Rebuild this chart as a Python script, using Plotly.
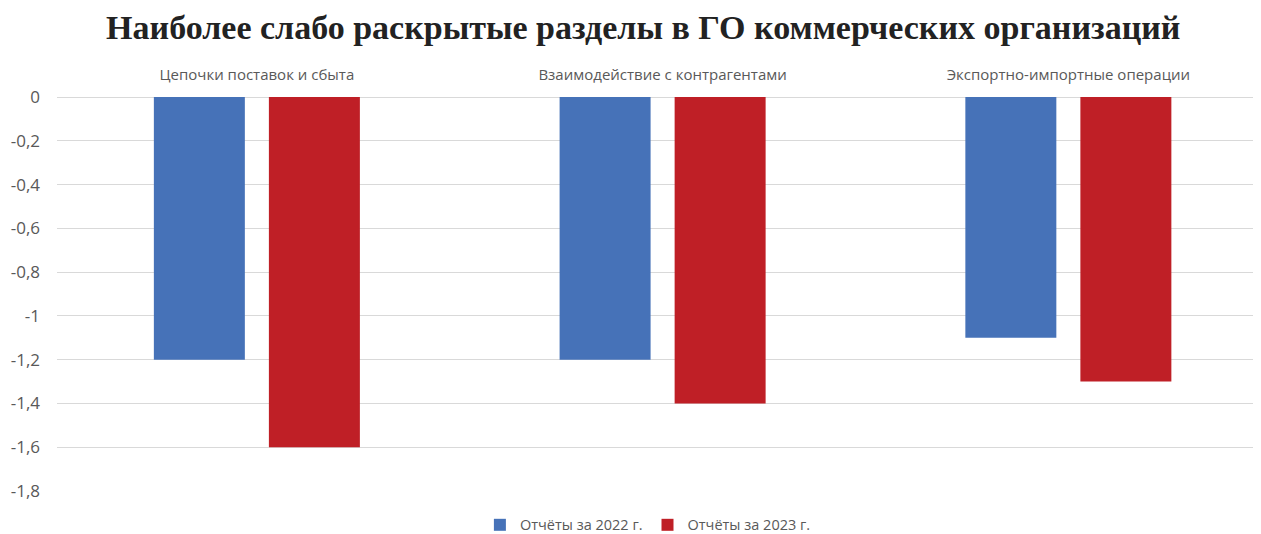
import plotly.graph_objects as go

categories = ["Цепочки поставок и сбыта", "Взаимодействие с контрагентами", "Экспортно-импортные операции"]
series_names = ["Отчёты за 2022 г.", "Отчёты за 2023 г."]
values_2022 = [-1.2, -1.2, -1.1]
values_2023 = [-1.6, -1.4, -1.3]
tick_vals = [0, -0.2, -0.4, -0.6, -0.8, -1, -1.2, -1.4, -1.6, -1.8]
tick_text = ["0", "-0,2", "-0,4", "-0,6", "-0,8", "-1", "-1,2", "-1,4", "-1,6", "-1,8"]
title_text = "Наиболее слабо раскрытые разделы в ГО коммерческих организаций"

colors = ["#4672B8", "#BF1F26"]

fig = go.Figure()
fig.add_trace(go.Bar(x=categories, y=values_2022, name=series_names[0],
                     marker=dict(color=colors[0], line=dict(width=0))))
fig.add_trace(go.Bar(x=categories, y=values_2023, name=series_names[1],
                     marker=dict(color=colors[1], line=dict(width=0))))

# page body has a margin, so the figure is slightly smaller and offset
fig.update_layout(
    width=1253, height=526,
    margin=dict(l=49, r=3, t=89, b=43, autoexpand=False),
    paper_bgcolor="white", plot_bgcolor="white",
    barmode="group", bargap=0.433, bargroupgap=0.209,
    title=dict(text=title_text, x=0.507, xanchor="center", y=0.964, yanchor="middle",
               font=dict(family="Liberation Serif", size=34, color="#222222", weight="bold")),
    font=dict(family="Open Sans", color="#595959", size=14),
    showlegend=True,
    legend=dict(orientation="h", x=0.492, xanchor="center", y=-0.086, yanchor="middle",
                font=dict(size=14.5, color="#595959"), itemwidth=30, traceorder="normal"),
    xaxis=dict(side="top", showline=False, showgrid=False, ticks="", automargin=False,
               range=[-0.4926, 2.4674],
               tickfont=dict(size=15, color="#595959"), ticklabelstandoff=13),
    yaxis=dict(range=[-1.8, 0], tickvals=tick_vals, ticktext=tick_text, automargin=False,
               showgrid=True, gridcolor="#D9D9D9", gridwidth=1,
               zeroline=True, zerolinecolor="#D9D9D9", zerolinewidth=1,
               showline=False, ticks="", ticklabelstandoff=16,
               tickfont=dict(size=17, color="#595959")),
)

fig.write_html("out.html")
